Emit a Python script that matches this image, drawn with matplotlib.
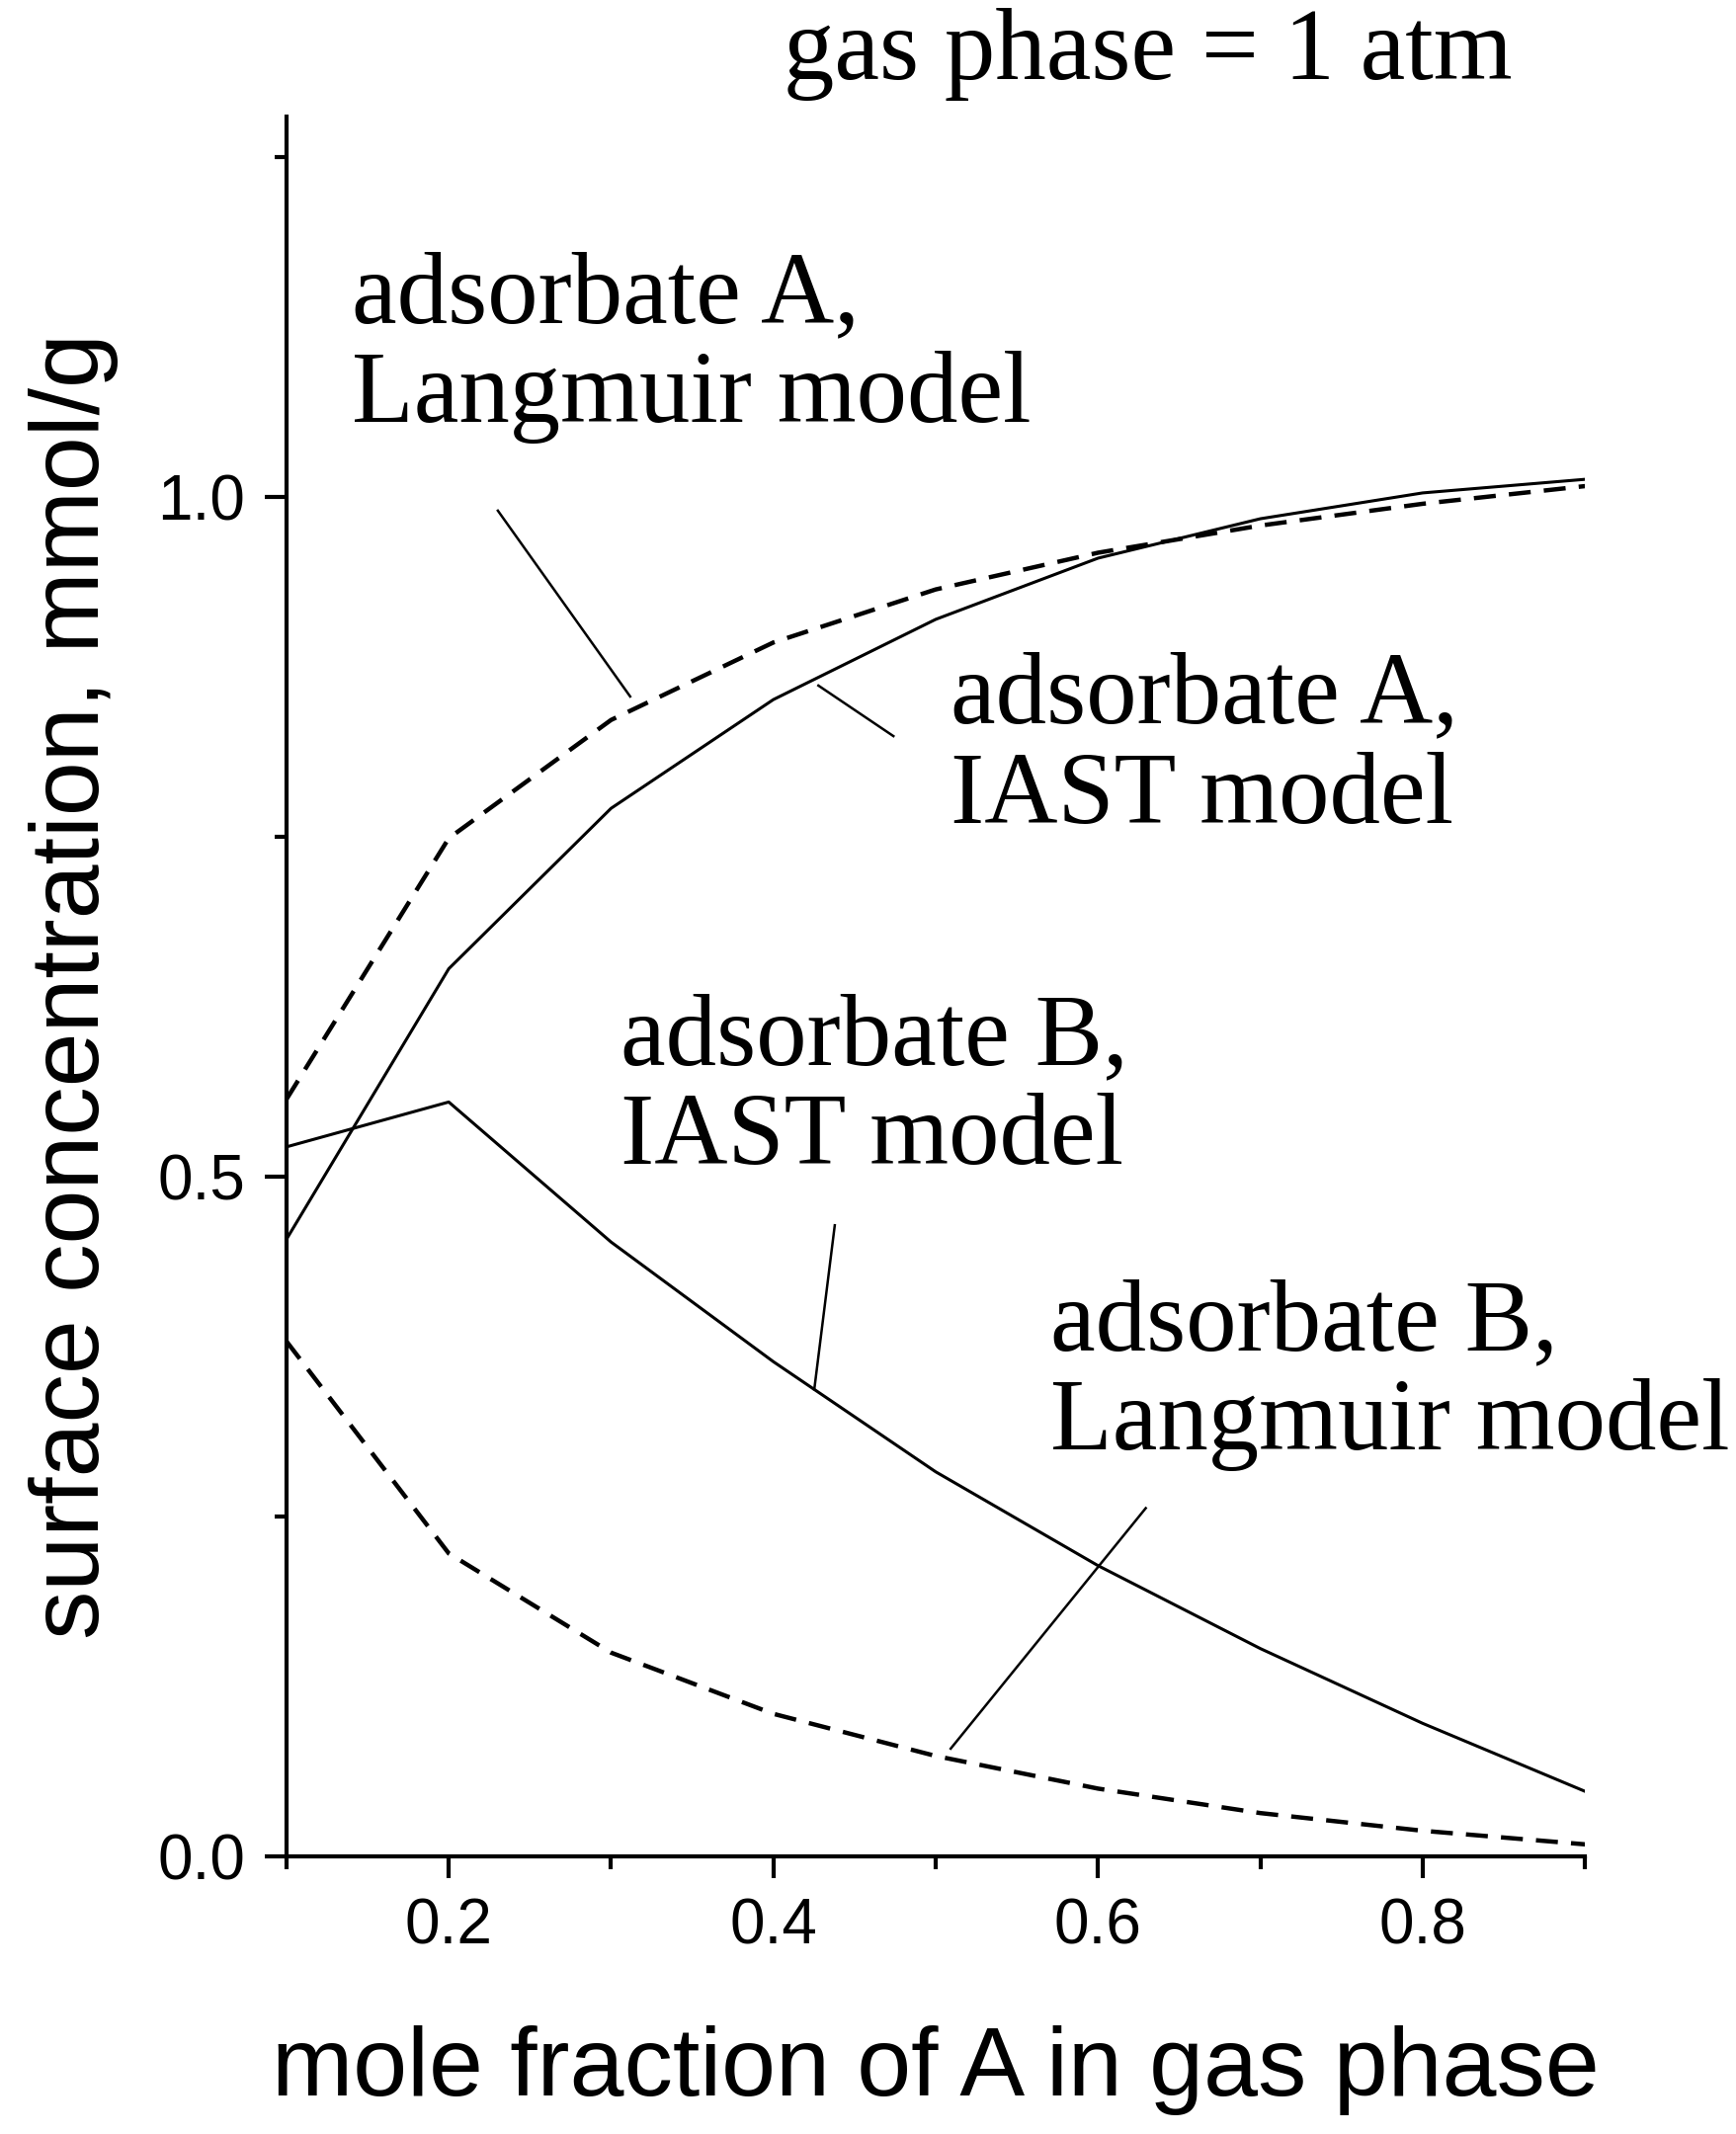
import numpy as np
import matplotlib
matplotlib.use("Agg")
import matplotlib.pyplot as plt
from matplotlib.ticker import MultipleLocator, FormatStrFormatter

# data
x = [0.1, 0.2, 0.3, 0.4, 0.5, 0.6, 0.7, 0.8, 0.9]
a_langmuir = [0.557, 0.749, 0.836, 0.893, 0.932, 0.959, 0.979, 0.995, 1.008]
a_iast = [0.454, 0.653, 0.771, 0.851, 0.910, 0.955, 0.984, 1.003, 1.013]
b_iast = [0.522, 0.555, 0.452, 0.364, 0.283, 0.214, 0.153, 0.098, 0.048]
b_langmuir = [0.379, 0.223, 0.150, 0.105, 0.074, 0.050, 0.032, 0.019, 0.009]

# pixel positions in reference (1270x1560 view) -> data coords
def px(u, v):
    return 0.1 + (u - 210) / 1190.0, (1357 - v) / 995.0

fig = plt.figure(figsize=(17.57, 21.6), dpi=100)
ax = fig.add_axes([0.165, 0.130, 0.748, 0.8155])

ax.plot(x, a_langmuir, 'k--', lw=3.2, dashes=(5, 3))
ax.plot(x, a_iast, 'k-', lw=2.2)
ax.plot(x, b_iast, 'k-', lw=2.2)
ax.plot(x, b_langmuir, 'k--', lw=3.2, dashes=(5, 3))

ax.set_xlim(0.1, 0.9)
ax.set_ylim(0, 1.28)
for s in ['top', 'right']:
    ax.spines[s].set_visible(False)
for s in ['left', 'bottom']:
    ax.spines[s].set_linewidth(3)
ax.xaxis.set_major_locator(MultipleLocator(0.2))
ax.xaxis.set_minor_locator(MultipleLocator(0.1))
ax.yaxis.set_major_locator(MultipleLocator(0.5))
ax.yaxis.set_minor_locator(MultipleLocator(0.25))
ax.xaxis.set_major_formatter(FormatStrFormatter('%.1f'))
ax.yaxis.set_major_formatter(FormatStrFormatter('%.1f'))
ax.tick_params(which='major', length=16, width=3, labelsize=46, pad=14)
ax.tick_params(which='minor', length=9, width=3)
for lab in ax.get_xticklabels() + ax.get_yticklabels():
    lab.set_family('Liberation Sans')

ax.set_xlabel('mole fraction of A in gas phase', family='Liberation Sans',
              fontsize=71, labelpad=50)
ax.set_ylabel('surface concentration, mmol/g', family='Liberation Sans',
              fontsize=71, labelpad=28)

serif = dict(family='Liberation Serif', fontsize=74, va='top', ha='left',
             linespacing=1.1, clip_on=False)
labels = [
    ("adsorbate A,\nLangmuir model", (258, 182), (365, 372), (462, 508)),
    ("adsorbate A,\nIAST model", (697, 475), (600, 500), (655, 537)),
    ("adsorbate B,\nIAST model", (455, 725), (612, 895), (597, 1015)),
    ("adsorbate B,\nLangmuir model", (770, 934), (840, 1102), (697, 1278)),
]
for txt, tp, p1, p2 in labels:
    tx, ty = px(*tp)
    ax.text(tx, ty, txt, **serif)
    (x1, y1), (x2, y2) = px(*p1), px(*p2)
    ax.plot([x1, x2], [y1, y2], 'k-', lw=1.8, clip_on=False)

fig.text(840 / 1270, 1 - 40 / 1560, 'gas phase = 1 atm', family='Liberation Serif',
         fontsize=74, ha='center', va='center')

fig.savefig('out.png', dpi=100)
